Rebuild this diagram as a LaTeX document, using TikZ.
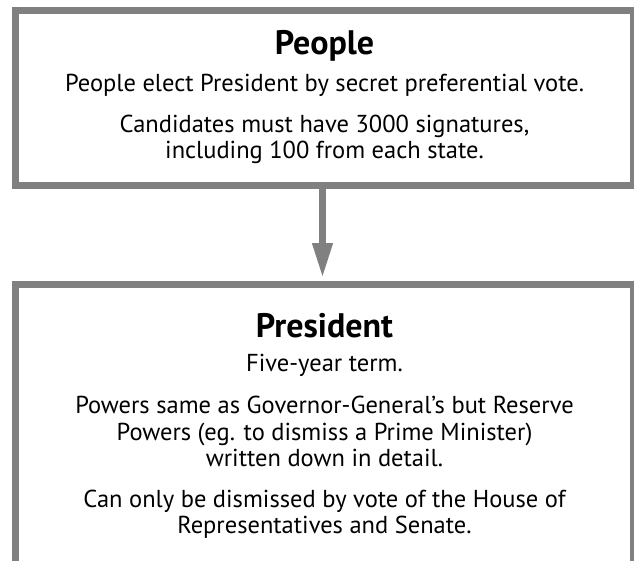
\documentclass[tikz,border=0pt]{standalone}
\usepackage{fontspec}
\setmainfont{PT Sans}
\usetikzlibrary{arrows.meta, positioning}
\definecolor{boxgray}{RGB}{128, 128, 128}

\begin{document}
\begin{tikzpicture}[x=1pt, y=-1pt,
  govbox/.style={draw=boxgray, line width=7pt, fill=white, minimum width=618pt, inner sep=0pt, align=center, font=\fontsize{24.5}{26.5}\selectfont}
]
  \path[use as bounding box, clip] (0,0) rectangle (634,560);
  \node[govbox, minimum height=175pt] (people) at (324.5, 97.5) {
    {\fontsize{34}{38}\selectfont\bfseries People}\\[10pt]
    People elect President by secret preferential vote.\\[14.5pt]
    Candidates must have 3000 signatures,\\
    including 100 from each state.
  };
  \node[govbox, minimum height=283pt] (president) at (324.5, 426) {
    {\fontsize{34}{38}\selectfont\bfseries President}\\[8pt]
    Five-year term.\\[15.5pt]
    Powers same as Governor-General's but Reserve\\
    Powers (eg. to dismiss a Prime Minister)\\
    written down in detail.\\[14pt]
    Can only be dismissed by vote of the House of\\
    Representatives and Senate.
  };
  \draw[boxgray, line width=7pt, -{Triangle[width=19pt, length=35pt]}, shorten >=3pt] ([xshift=-2pt]people.south) -- ([xshift=-2pt]president.north);
\end{tikzpicture}
\end{document}
